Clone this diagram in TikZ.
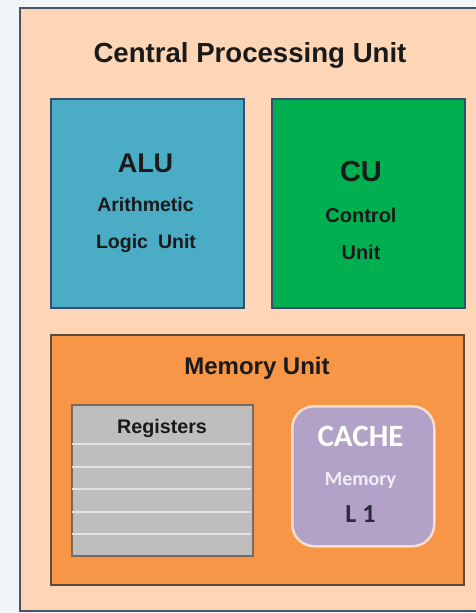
\documentclass[tikz,border=0pt]{standalone}
\usepackage{fontspec}
\setmainfont{Liberation Sans}
\newfontfamily\cachefont{Carlito}
\definecolor{pagebg}{HTML}{F1F5F9}
\definecolor{cpufill}{HTML}{FCD6B6}
\definecolor{cpuedge}{HTML}{45566A}
\definecolor{alufill}{HTML}{4BACC6}
\definecolor{cufill}{HTML}{00B050}
\definecolor{boxedge}{HTML}{33506E}
\definecolor{memfill}{HTML}{F79646}
\definecolor{memedge}{HTML}{5E4A3A}
\definecolor{regfill}{HTML}{BEBEBE}
\definecolor{regline}{HTML}{E2E2E2}
\definecolor{regedge}{HTML}{7A6A5C}
\definecolor{cachefill}{HTML}{B3A2C7}
\definecolor{cacheedge}{HTML}{F6DDD2}
\definecolor{inktext}{HTML}{1A1A1A}
\definecolor{cachelight}{HTML}{F2EDF7}
\definecolor{cachedark}{HTML}{2E2A40}
\begin{document}
\begin{tikzpicture}[x=1pt,y=-1pt,
  unitbox/.style={draw=boxedge,line width=2pt},
  label/.style={anchor=base,inner sep=0pt,text=inktext,font=\bfseries},
  cachetext/.style={anchor=base,inner sep=0pt,font=\cachefont\bfseries}]
\useasboundingbox (0,0) rectangle (475,613);
\fill[pagebg] (0,0) rectangle (475,613);

% outer CPU frame (runs past the right edge)
\fill[cpufill] (20,8) rectangle (480,611);
\draw[cpuedge,line width=2pt] (480,8) -- (20,8) -- (20,611) -- (480,611);
\node[label,font=\bfseries\fontsize{27.6}{32}\selectfont] (cputitle) at (250,62) {Central Processing Unit};

% ALU and CU
\node[unitbox,fill=alufill,minimum width=193pt,minimum height=209pt,anchor=north west] (alu) at (50,98) {};
\node[unitbox,fill=cufill,minimum width=193pt,minimum height=209pt,anchor=north west] (cu) at (271,98) {};

\node[label,font=\bfseries\fontsize{27}{32}\selectfont] (alutitle) at (145.5,172) {ALU};
\node[label,font=\bfseries\fontsize{19.5}{23}\selectfont] (alua) at (145.5,211) {Arithmetic};
\node[label,font=\bfseries\fontsize{19.5}{23}\selectfont] (alub) at (146,248) {Logic\hspace{10pt}Unit};

\node[label,font=\bfseries\fontsize{29}{34}\selectfont] (cutitle) at (361,181) {CU};
\node[label,font=\bfseries\fontsize{20}{24}\selectfont] (cua) at (361,222) {Control};
\node[label,font=\bfseries\fontsize{20}{24}\selectfont] (cub) at (361,259) {Unit};

% memory unit
\node[draw=memedge,line width=2pt,fill=memfill,minimum width=413pt,minimum height=250pt,anchor=north west] (mem) at (50,334) {};
\node[label,font=\bfseries\fontsize{24}{28}\selectfont] (memtitle) at (257,374) {Memory Unit};

% register file
\node[draw=regedge,line width=2pt,fill=regfill,minimum width=181pt,minimum height=151pt,anchor=north west] (regs) at (71,404) {};
\foreach \yy in {444,467,489,512,534}
  \draw[regline,line width=2pt] (72,\yy) -- (251,\yy);
\node[label,font=\bfseries\fontsize{19.7}{23}\selectfont] (regtitle) at (162,433) {Registers};

% cache
\node[draw=cacheedge,line width=2.5pt,fill=cachefill,rounded corners=22pt,minimum width=142pt,minimum height=140pt,anchor=north west] (cache) at (291,405) {};
\node[cachetext,text=white,font=\cachefont\bfseries\fontsize{31}{36}\selectfont] (cachetitle) at (360.5,446) {CACHE};
\node[cachetext,text=cachelight,font=\cachefont\bfseries\fontsize{20}{24}\selectfont] (cachea) at (360.5,485) {Memory};
\node[cachetext,text=cachedark,font=\cachefont\bfseries\fontsize{26}{30}\selectfont] (cacheb) at (360.5,522) {L 1};
\end{tikzpicture}
\end{document}
